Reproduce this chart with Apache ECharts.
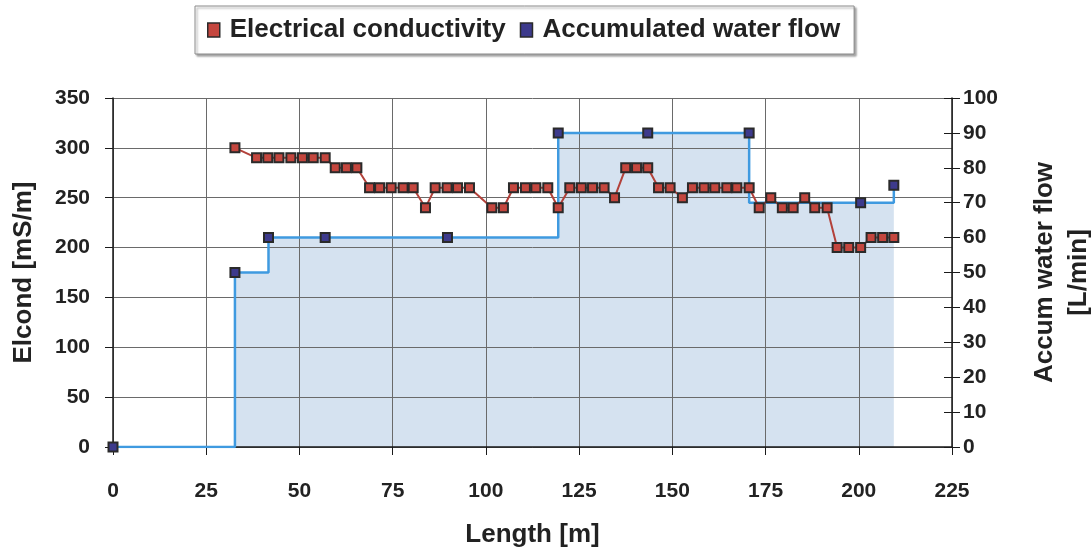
<!DOCTYPE html>
<html>
<head>
<meta charset="utf-8">
<script src="https://cdn.jsdelivr.net/npm/echarts@6/dist/echarts.min.js"></script>
<style>
  html, body { margin: 0; padding: 0; background: #ffffff; }
  #chart { width: 1092px; height: 552px; }
</style>
</head>
<body>
<div id="chart"></div>
<script>
// Electrical conductivity along the tunnel [mS/m]
const elcondX = [32.7, 38.5, 41.5, 44.5, 47.7, 50.8, 53.7, 56.9, 59.6, 62.6, 65.4,
  68.8, 71.5, 74.6, 77.8, 80.5, 83.8, 86.4, 89.6, 92.4, 95.6, 101.6, 104.7,
  107.4, 110.6, 113.4, 116.6, 119.4, 122.5, 125.6, 128.6, 131.7, 134.5, 137.5,
  140.4, 143.4, 146.3, 149.4, 152.7, 155.4, 158.5, 161.4, 164.6, 167.3, 170.6,
  173.3, 176.4, 179.5, 182.4, 185.5, 188.2, 191.5, 194.2, 197.3, 200.5, 203.3,
  206.4, 209.4];
const elcondY = [300, 290, 290, 290, 290, 290, 290, 290, 280, 280, 280,
  260, 260, 260, 260, 260, 240, 260, 260, 260, 260, 240, 240,
  260, 260, 260, 260, 240, 260, 260, 260, 260, 250, 280,
  280, 280, 260, 260, 250, 260, 260, 260, 260, 260, 260,
  240, 250, 240, 240, 250, 240, 240, 200, 200, 200, 210,
  210, 210];

// Accumulated water flow readings [L/min]
const flowReadX = [0, 32.7, 41.7, 56.9, 89.7, 119.4, 143.4, 170.6, 200.5, 209.4];
const flowReadY = [0, 50, 60, 60, 60, 90, 90, 90, 70, 75];

// Flow level profile (value holds until the next change point)
const flowStepX = [0, 32.7, 41.7, 119.4, 170.6, 209.4];
const flowStepY = [0, 50, 60, 90, 70, 75];

const xTicks = { min: 0, max: 225, interval: 25 };
const elcondTicks = { min: 0, max: 350, interval: 50 };
const flowTicks = { min: 0, max: 100, interval: 10 };

const zip = (xs, ys) => xs.map((x, i) => [x, ys[i]]);

const FONT = '"Liberation Sans", Arial, Helvetica, sans-serif';
const TXT = '#222222';
const RED = '#c4463e';
const RED_LINE = '#b3413a';
const BLUE = '#3d3a8c';
const FLOW_LINE = '#3f9ae0';
const FLOW_FILL = '#d5e2f0';
const GRID = '#6a6a6a';

const chart = echarts.init(document.getElementById('chart'), null, { renderer: 'canvas' });

const labelStyle = { color: TXT, fontFamily: FONT, fontWeight: 'bold', fontSize: 21 };
const nameStyle = { color: TXT, fontFamily: FONT, fontWeight: 'bold', fontSize: 26 };

chart.setOption({
  animation: false,
  backgroundColor: '#ffffff',
  legend: {
    left: 195,
    top: 6,
    padding: [11, 14, 11, 12],
    itemGap: 14,
    itemWidth: 12,
    itemHeight: 14,
    borderColor: '#8a8a8a',
    borderWidth: 1,
    backgroundColor: '#ffffff',
    shadowColor: 'rgba(0,0,0,0.35)',
    shadowBlur: 2,
    shadowOffsetX: 2,
    shadowOffsetY: 2,
    selectedMode: false,
    textStyle: { color: TXT, fontFamily: FONT, fontWeight: 'bold', fontSize: 26, padding: [0, 0, 0, 5] },
    data: [
      { name: 'Electrical conductivity', icon: 'rect',
        itemStyle: { color: RED, borderColor: '#2a2a2a', borderWidth: 1.5 } },
      { name: 'Accumulated water flow', icon: 'rect',
        itemStyle: { color: BLUE, borderColor: '#2a2a2a', borderWidth: 1.5 } }
    ]
  },
  grid: { left: 113, right: 140, top: 98, bottom: 105, containLabel: false, outerBoundsMode: 'none' },
  xAxis: {
    type: 'value',
    min: xTicks.min, max: xTicks.max, interval: xTicks.interval,
    z: 2,
    name: 'Length [m]',
    nameLocation: 'middle',
    nameGap: 75,
    nameTextStyle: nameStyle,
    axisLine: { show: true, onZero: false, lineStyle: { color: '#1a1a1a', width: 1.5 } },
    axisTick: { show: true, length: 8, lineStyle: { color: '#1a1a1a', width: 1 } },
    axisLabel: Object.assign({ margin: 34 }, labelStyle),
    splitLine: { show: true, lineStyle: { color: GRID, width: 1 } }
  },
  yAxis: [
    {
      type: 'value',
      position: 'left',
      min: elcondTicks.min, max: elcondTicks.max, interval: elcondTicks.interval,
      z: 2,
      name: 'Elcond [mS/m]',
      nameLocation: 'middle',
      nameRotate: 90,
      nameGap: 76,
      nameTextStyle: nameStyle,
      axisLine: { show: true, lineStyle: { color: '#1a1a1a', width: 1.5 } },
      axisTick: { show: true, length: 8, lineStyle: { color: '#1a1a1a', width: 1 } },
      axisLabel: Object.assign({ margin: 23 }, labelStyle),
      splitLine: { show: true, lineStyle: { color: GRID, width: 1 } }
    },
    {
      type: 'value',
      position: 'right',
      min: flowTicks.min, max: flowTicks.max, interval: flowTicks.interval,
      z: 2,
      name: 'Accum water flow\n[L/min]',
      nameLocation: 'middle',
      nameRotate: 90,
      nameGap: 76,
      nameTextStyle: Object.assign({ lineHeight: 34, align: 'center' }, nameStyle),
      axisLine: { show: true, lineStyle: { color: '#1a1a1a', width: 1.5 } },
      axisTick: { show: true, length: 8, lineStyle: { color: '#1a1a1a', width: 1 } },
      axisLabel: Object.assign({ margin: 11 }, labelStyle),
      splitLine: { show: false }
    },
    {
      // inward half of the right-hand ticks
      type: 'value',
      position: 'right',
      min: flowTicks.min, max: flowTicks.max, interval: flowTicks.interval,
      z: 2,
      axisLine: { show: false },
      axisTick: { show: true, inside: true, length: 8, lineStyle: { color: '#1a1a1a', width: 1 } },
      axisLabel: { show: false },
      splitLine: { show: false }
    }
  ],
  series: [
    {
      name: 'Accumulated water flow',
      type: 'line',
      yAxisIndex: 1,
      step: 'end',
      data: zip(flowStepX, flowStepY),
      showSymbol: false,
      lineStyle: { width: 0 },
      areaStyle: { color: FLOW_FILL, opacity: 1 },
      z: 1,
      silent: true
    },
    {
      name: 'Accumulated water flow',
      type: 'line',
      yAxisIndex: 1,
      step: 'end',
      data: zip(flowStepX, flowStepY),
      showSymbol: false,
      lineStyle: { color: FLOW_LINE, width: 2.5 },
      z: 4,
      silent: true
    },
    {
      name: 'Electrical conductivity',
      type: 'line',
      yAxisIndex: 0,
      data: zip(elcondX, elcondY),
      symbol: 'rect',
      symbolSize: 9,
      showAllSymbol: true,
      lineStyle: { color: RED_LINE, width: 2 },
      itemStyle: { color: RED, borderColor: '#2a2a2a', borderWidth: 2 },
      z: 5
    },
    {
      name: 'Accumulated water flow',
      type: 'scatter',
      yAxisIndex: 1,
      data: zip(flowReadX, flowReadY),
      symbol: 'rect',
      symbolSize: 9,
      itemStyle: { color: BLUE, borderColor: '#2a2a2a', borderWidth: 2, opacity: 1 },
      z: 6
    }
  ]
});
</script>
</body>
</html>
